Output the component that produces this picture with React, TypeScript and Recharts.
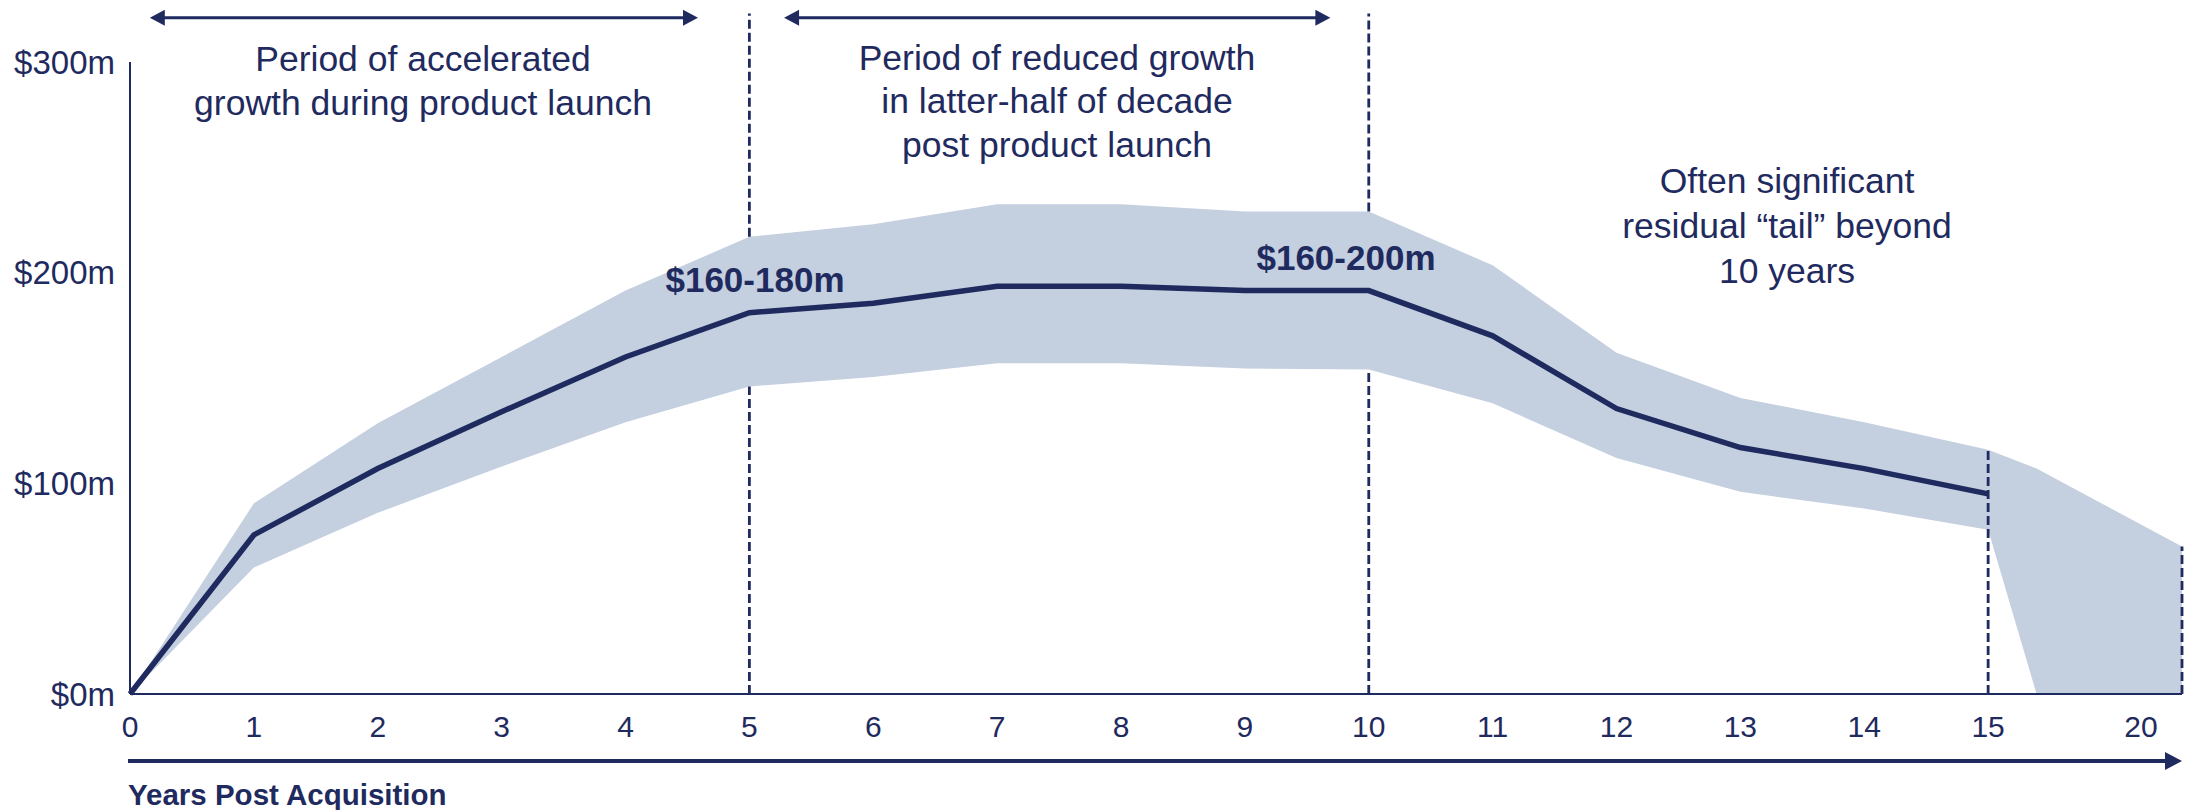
import {
  ComposedChart,
  Area,
  Line,
  XAxis,
  YAxis,
  ReferenceLine,
} from "recharts";

const NAVY = "#1F2A5E";
const BAND = "#C4CFE0";
const FONT = "'Liberation Sans', Arial, sans-serif";

// years after acquisition; the last two points sit on the squeezed "tail" part of the axis
const years = [0, 1, 2, 3, 4, 5, 6, 7, 8, 9, 10, 11, 12, 13, 14, 15, 16.25, 20];
const median = [0, 75.5, 107, 134, 160, 181, 185.5, 193.5, 193.5, 191.5, 191.5, 170, 135.5, 117, 107, 95, null, null];
const upper = [0, 90.5, 128.5, 160, 191.5, 217, 223, 232.5, 232.5, 229, 229, 203.5, 162, 140.5, 129, 116, 107, 70];
const lower = [0, 60, 86, 108, 129, 146, 150.5, 157, 157, 154.5, 154, 138, 112, 96, 88, 78, 0, 0];

const xTickYears = [0, 1, 2, 3, 4, 5, 6, 7, 8, 9, 10, 11, 12, 13, 14, 15, 20];
const yTicks = [0, 100, 200, 300];

// the axis is drawn to scale up to year 15, then years 15-20 are compressed
const TAIL_FROM = 15;
const TAIL_SQUEEZE = 0.313;
const xPos = (year: number) => (year <= TAIL_FROM ? year : TAIL_FROM + (year - TAIL_FROM) * TAIL_SQUEEZE);

const rows = years.map((y, i) => ({
  pos: xPos(y),
  median: median[i],
  band: [lower[i], upper[i]],
}));

const xTicks = xTickYears.map(xPos);
const X_MAX = xPos(20);
const LINE_TOP = 323; // dashed dividers reach up into the annotation area

const W = 2206;
const H = 810;

function XTick(props: any) {
  const { x, y, payload } = props;
  const i = xTicks.indexOf(payload.value);
  const last = i === xTicks.length - 1;
  return (
    <text x={last ? x - 41 : x} y={y} dy="0.71em" textAnchor="middle" fontSize={30} fill={NAVY}>
      {xTickYears[i]}
    </text>
  );
}

function DoubleArrow(props: any) {
  const { x1, y1, x2 } = props;
  const len = 15;
  const h = 8;
  return (
    <g>
      <line x1={x1 + len - 2} y1={y1} x2={x2 - len + 2} y2={y1} stroke={NAVY} strokeWidth={3} />
      <polygon points={`${x1},${y1} ${x1 + len},${y1 - h} ${x1 + len},${y1 + h}`} fill={NAVY} />
      <polygon points={`${x2},${y1} ${x2 - len},${y1 - h} ${x2 - len},${y1 + h}`} fill={NAVY} />
    </g>
  );
}

const dashed = { stroke: NAVY, strokeWidth: 2.8, strokeDasharray: "9 4", ifOverflow: "visible" as const };

export default function App() {
  const i5 = years.indexOf(5);
  const i10 = years.indexOf(10);
  const i15 = years.indexOf(15);
  const i20 = years.indexOf(20);

  return (
    <div style={{ position: "relative", width: W, height: H, fontFamily: FONT, background: "#fff" }}>
      <style>{"body{margin:0}"}</style>
      <ComposedChart
        width={W}
        height={H}
        data={rows}
        margin={{ top: 62, right: W - 2182, left: 0, bottom: 0 }}
      >
        <XAxis
          dataKey="pos"
          type="number"
          domain={[0, X_MAX]}
          ticks={xTicks}
          interval={0}
          height={116}
          tickSize={0}
          tickMargin={22}
          tickLine={false}
          axisLine={{ stroke: NAVY, strokeWidth: 2 }}
          tick={<XTick />}
        />
        <YAxis
          type="number"
          domain={[0, 300]}
          ticks={yTicks}
          width={130}
          tickSize={0}
          tickMargin={15}
          tickLine={false}
          axisLine={{ stroke: NAVY, strokeWidth: 2 }}
          tick={{ fontSize: 33, fill: NAVY }}
          tickFormatter={(v: number) => `$${v}m`}
        />

        {/* dividers at 5 and 10 pass behind the band */}
        <ReferenceLine {...dashed} segment={[{ x: 5, y: 0 }, { x: 5, y: lower[i5] }]} />
        <ReferenceLine {...dashed} segment={[{ x: 5, y: upper[i5] }, { x: 5, y: LINE_TOP }]} />
        <ReferenceLine {...dashed} segment={[{ x: 10, y: 0 }, { x: 10, y: lower[i10] }]} />
        <ReferenceLine {...dashed} segment={[{ x: 10, y: upper[i10] }, { x: 10, y: LINE_TOP }]} />

        <Area
          dataKey="band"
          type="linear"
          fill={BAND}
          fillOpacity={1}
          stroke="none"
          isAnimationActive={false}
          activeDot={false}
        />
        <Line
          dataKey="median"
          type="linear"
          stroke={NAVY}
          strokeWidth={5.5}
          dot={false}
          activeDot={false}
          isAnimationActive={false}
        />

        <ReferenceLine {...dashed} segment={[{ x: xPos(15), y: 0 }, { x: xPos(15), y: upper[i15] }]} />
        <ReferenceLine {...dashed} segment={[{ x: xPos(20), y: 0 }, { x: xPos(20), y: upper[i20] }]} />

        <ReferenceLine
          ifOverflow="visible"
          segment={[{ x: 0.16, y: 321 }, { x: 4.585, y: 321 }]}
          shape={<DoubleArrow />}
        />
        <ReferenceLine
          ifOverflow="visible"
          segment={[{ x: 5.28, y: 321 }, { x: 9.69, y: 321 }]}
          shape={<DoubleArrow />}
        />
      </ComposedChart>

      <svg
        width={W}
        height={H}
        style={{ position: "absolute", left: 0, top: 0, pointerEvents: "none" }}
      >
        <g fill={NAVY} fontSize={35.5} textAnchor="middle">
          <text x={423} y={71}>Period of accelerated</text>
          <text x={423} y={115}>growth during product launch</text>
          <text x={1057} y={70}>Period of reduced growth</text>
          <text x={1057} y={113}>in latter-half of decade</text>
          <text x={1057} y={157}>post product launch</text>
          <text x={1787} y={193}>Often significant</text>
          <text x={1787} y={238}>residual “tail” beyond</text>
          <text x={1787} y={283}>10 years</text>
        </g>
        <g fill={NAVY} fontSize={35} fontWeight="bold" textAnchor="middle">
          <text x={755} y={292}>$160-180m</text>
          <text x={1346} y={270}>$160-200m</text>
        </g>
        <line x1={128} y1={761} x2={2168} y2={761} stroke={NAVY} strokeWidth={4} />
        <polygon points="2182,761 2165,752 2165,770" fill={NAVY} />
        <text x={128} y={805} fill={NAVY} fontSize={29.5} fontWeight="bold">
          Years Post Acquisition
        </text>
      </svg>
    </div>
  );
}
